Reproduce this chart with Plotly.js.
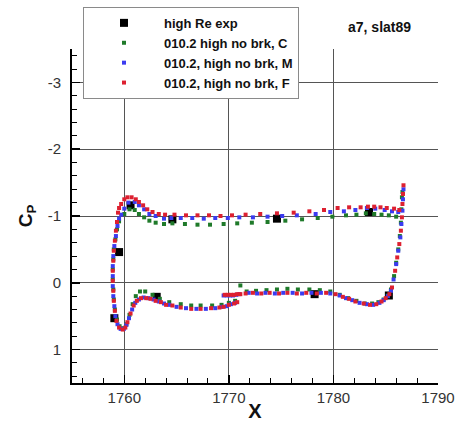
<!DOCTYPE html>
<html>
<head>
<meta charset="utf-8">
<script src="https://cdn.plot.ly/plotly-3.0.1.min.js"></script>
<style>html,body{margin:0;padding:0;background:#fff;}#chart{width:456px;height:422px;}</style>
</head>
<body>
<div id="chart"></div>
<script>
// Experimental data (high Re exp)
const xExp = [1759.05, 1759.5, 1760.6, 1763.1, 1764.6, 1774.6, 1778.2, 1783.4, 1785.3];
const cpExp = [0.53, -0.46, -1.16, 0.21, -0.95, -0.96, 0.17, -1.06, 0.19];

// 010.2 high no brk, C (green)
const xC = [1786.0,1785.3,1784.6,1783.9,1783.1,1782.2,1781.2,1779.9,1778.5,1777.0,1775.4,1773.7,1772.2,1770.8,1769.5,1768.2,1767.0,1765.8,1764.6,1763.8,1763.0,1762.4,1761.9,1761.4,1761.0,1760.5,1760.0,1759.5,1759.3,1759.15,1759.0,1758.95,1758.9,1758.9,1758.95,1759.0,1759.1,1759.3,1759.55,1759.9,1760.2,1760.5,1760.8,1761.1,1761.5,1762.0,1762.7,1763.4,1764.3,1765.4,1766.4,1767.3,1768.4,1769.3,1770.0,1770.6,1771.1,1771.7,1772.6,1773.6,1774.6,1775.6,1776.6,1777.7,1778.7,1779.7,1780.6,1781.4,1782.2,1783.0,1783.7,1784.3,1784.8,1785.2,1785.5,1785.8,1786.0,1786.2,1786.35,1786.45,1786.5,1786.55,1786.6];
const cpC = [-0.99,-1.01,-1.02,-1.03,-1.04,-1.02,-1.01,-0.99,-0.97,-0.95,-0.93,-0.91,-0.90,-0.89,-0.88,-0.87,-0.87,-0.88,-0.89,-0.88,-0.90,-0.93,-0.98,-1.03,-1.09,-1.10,-1.03,-0.92,-0.80,-0.65,-0.50,-0.35,-0.20,-0.05,0.10,0.25,0.40,0.55,0.65,0.68,0.62,0.48,0.32,0.20,0.13,0.13,0.18,0.24,0.29,0.32,0.34,0.34,0.34,0.33,0.30,0.27,0.04,0.13,0.12,0.11,0.10,0.09,0.10,0.10,0.11,0.13,0.18,0.23,0.27,0.31,0.31,0.29,0.25,0.19,0.10,-0.10,-0.30,-0.50,-0.70,-0.90,-1.10,-1.28,-1.36];

// 010.2, high no brk, M (blue)
const xM = [1786.2,1785.6,1784.9,1784.0,1783.2,1782.1,1781.0,1779.7,1778.3,1776.5,1775.1,1773.7,1772.3,1771.0,1769.9,1768.7,1767.6,1766.5,1765.4,1764.5,1763.8,1763.0,1762.4,1761.9,1761.4,1761.0,1760.4,1760.0,1759.7,1759.5,1759.35,1759.2,1759.05,1758.95,1758.9,1758.9,1758.9,1758.95,1759.05,1759.15,1759.35,1759.65,1759.95,1760.2,1760.45,1760.75,1761.05,1761.4,1761.85,1762.3,1762.8,1763.3,1763.8,1764.3,1765.0,1765.9,1766.9,1767.8,1768.7,1769.3,1769.8,1770.2,1770.6,1769.5,1769.8,1770.1,1770.4,1770.7,1771.0,1771.9,1772.7,1773.5,1774.4,1775.2,1776.1,1777.0,1777.9,1778.8,1779.7,1780.6,1781.2,1781.8,1782.5,1783.2,1783.8,1784.4,1784.8,1785.2,1785.5,1785.75,1786.0,1786.2,1786.4,1786.5,1786.6,1786.65,1786.7];
const cpM = [-1.06,-1.07,-1.09,-1.11,-1.12,-1.09,-1.07,-1.06,-1.03,-1.01,-1.00,-0.99,-0.98,-0.98,-0.97,-0.97,-0.96,-0.97,-0.97,-0.97,-0.96,-1.00,-1.03,-1.10,-1.16,-1.21,-1.20,-1.11,-1.02,-0.96,-0.85,-0.70,-0.55,-0.40,-0.25,-0.10,0.05,0.20,0.35,0.50,0.62,0.69,0.69,0.63,0.53,0.40,0.30,0.25,0.22,0.23,0.25,0.28,0.31,0.33,0.36,0.38,0.39,0.39,0.38,0.36,0.35,0.32,0.30,0.19,0.19,0.19,0.19,0.18,0.17,0.15,0.16,0.15,0.16,0.15,0.15,0.16,0.15,0.15,0.16,0.19,0.23,0.26,0.30,0.32,0.33,0.30,0.26,0.20,0.12,-0.05,-0.28,-0.48,-0.68,-0.88,-1.08,-1.25,-1.40];

// 010.2, high no brk, F (red)
const xF = [1786.3,1785.8,1785.1,1784.5,1783.9,1783.3,1782.6,1781.5,1780.4,1779.1,1777.7,1776.2,1774.6,1773.0,1771.6,1770.3,1769.2,1768.1,1767.0,1765.9,1764.8,1763.9,1763.3,1762.7,1762.2,1761.8,1761.4,1761.1,1760.7,1760.3,1760.0,1759.7,1759.5,1759.4,1759.3,1759.2,1759.1,1759.0,1758.95,1758.9,1758.9,1758.95,1759.0,1759.1,1759.25,1759.5,1759.85,1760.1,1760.3,1760.6,1760.9,1761.2,1761.6,1762.1,1762.5,1763.0,1763.5,1764.0,1764.6,1765.4,1766.4,1767.3,1768.3,1769.1,1769.5,1770.0,1770.5,1770.8,1769.6,1769.9,1770.2,1770.5,1770.8,1771.1,1771.6,1772.3,1773.1,1773.9,1774.8,1775.6,1776.5,1777.4,1778.4,1779.3,1780.2,1780.9,1781.5,1782.1,1782.9,1783.5,1784.1,1784.6,1785.0,1785.35,1785.6,1785.9,1786.1,1786.3,1786.45,1786.55,1786.6,1786.65,1786.7];
const cpF = [-1.09,-1.11,-1.12,-1.13,-1.14,-1.14,-1.13,-1.13,-1.12,-1.09,-1.07,-1.05,-1.04,-1.03,-1.02,-1.01,-1.00,-1.01,-1.01,-1.01,-1.02,-1.02,-1.03,-1.06,-1.10,-1.16,-1.21,-1.25,-1.28,-1.28,-1.25,-1.18,-1.12,-1.05,-0.91,-0.78,-0.63,-0.48,-0.33,-0.18,-0.03,0.12,0.27,0.42,0.57,0.67,0.70,0.67,0.59,0.46,0.34,0.27,0.23,0.23,0.24,0.27,0.29,0.33,0.34,0.37,0.39,0.39,0.38,0.37,0.36,0.33,0.31,0.29,0.18,0.18,0.18,0.18,0.17,0.17,0.16,0.15,0.16,0.15,0.16,0.15,0.16,0.15,0.16,0.15,0.17,0.21,0.24,0.28,0.31,0.33,0.32,0.28,0.23,0.17,0.07,-0.18,-0.38,-0.58,-0.78,-0.98,-1.18,-1.33,-1.46];

const seriesNames = ['high Re exp', '010.2 high no brk, C', '010.2, high no brk, M', '010.2, high no brk, F'];
const xTickVals = [1760, 1770, 1780, 1790];
const yTickVals = [-3, -2, -1, 0, 1];

const FONT = 'Liberation Sans, Arial, Helvetica, sans-serif';

const traces = [
  {x: xExp, y: cpExp, name: seriesNames[0], mode: 'markers', type: 'scatter',
   marker: {symbol: 'square', size: 8, color: '#000000'}},
  {x: xC, y: cpC, name: seriesNames[1], mode: 'markers', type: 'scatter',
   marker: {symbol: 'square', size: 4, color: '#1f7a2a'}},
  {x: xM, y: cpM, name: seriesNames[2], mode: 'markers', type: 'scatter',
   marker: {symbol: 'square', size: 4, color: '#3b3bf0'}},
  {x: xF, y: cpF, name: seriesNames[3], mode: 'markers', type: 'scatter',
   marker: {symbol: 'square', size: 4, color: '#dd2030'}}
];

const layout = {
  width: 456, height: 422,
  margin: {l: 72, r: 18, t: 49, b: 39, autoexpand: false},
  paper_bgcolor: '#ffffff', plot_bgcolor: '#ffffff',
  font: {family: FONT, color: '#222222'},
  showlegend: true,
  legend: {
    x: 0.03, y: 1.126, xanchor: 'left', yanchor: 'top',
    bgcolor: '#ffffff', bordercolor: '#8a8a8a', borderwidth: 1,
    itemwidth: 70, traceorder: 'normal',
    font: {family: FONT, size: 13, color: '#111111', weight: 'bold'}
  },
  xaxis: {
    range: [1755, 1790], tickvals: xTickVals, ticktext: xTickVals.map(String),
    ticks: 'inside', ticklen: 8, tickwidth: 1.5, tickcolor: '#000',
    minor: {dtick: 2, tick0: 1760, ticks: 'inside', ticklen: 5, tickwidth: 1, tickcolor: '#000', showgrid: false},
    showline: true, linecolor: '#000', linewidth: 2, mirror: false,
    showgrid: true, gridcolor: '#555555', gridwidth: 1, zeroline: false,
    tickfont: {family: FONT, size: 15, color: '#333333'},
    title: {text: 'X', font: {family: FONT, size: 20, color: '#111111', weight: 'bold'}, standoff: 4}
  },
  yaxis: {
    range: [1.5, -3.5], tickvals: yTickVals, ticktext: yTickVals.map(String),
    ticks: 'inside', ticklen: 8, tickwidth: 1.5, tickcolor: '#000',
    minor: {dtick: 0.2, tick0: 0, ticks: 'inside', ticklen: 5, tickwidth: 1, tickcolor: '#000', showgrid: false},
    showline: true, linecolor: '#000', linewidth: 2, mirror: false,
    showgrid: true, gridcolor: '#555555', gridwidth: 1, zeroline: false,
    tickfont: {family: FONT, size: 15, color: '#333333'},
    ticklabelstandoff: 6,
    title: {text: 'C<sub>P</sub>', font: {family: FONT, size: 19, color: '#111111', weight: 'bold'}, standoff: 10}
  },
  annotations: [{
    xref: 'paper', yref: 'paper', x: 0.84, y: 1.065, xanchor: 'center', yanchor: 'middle',
    text: 'a7, slat89', showarrow: false,
    font: {family: FONT, size: 14, color: '#111111', weight: 'bold'}
  }]
};

Plotly.newPlot('chart', traces, layout, {displayModeBar: false, staticPlot: true});
</script>
</body>
</html>
